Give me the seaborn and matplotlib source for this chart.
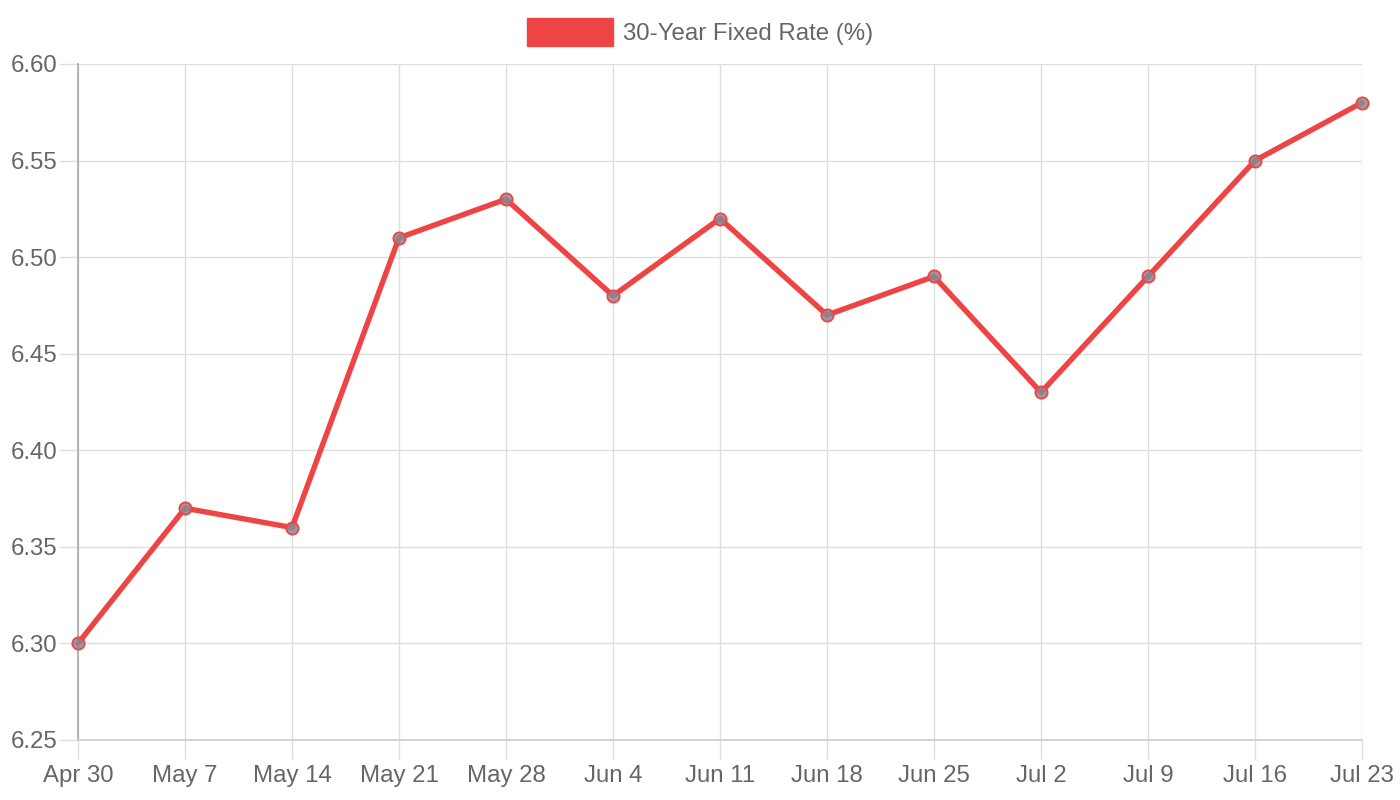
#!/usr/bin/env python3
"""30-year fixed mortgage rate, weekly."""

import matplotlib

matplotlib.use("Agg")
import matplotlib.pyplot as plt
from matplotlib.patches import Patch
import pandas as pd
import seaborn as sns

WEEKS = ["Apr 30", "May 7", "May 14", "May 21", "May 28", "Jun 4", "Jun 11",
         "Jun 18", "Jun 25", "Jul 2", "Jul 9", "Jul 16", "Jul 23"]
RATES = [6.30, 6.37, 6.36, 6.51, 6.53, 6.48, 6.52, 6.47, 6.49, 6.43, 6.49, 6.55, 6.58]
Y_TICKS = [6.25, 6.30, 6.35, 6.40, 6.45, 6.50, 6.55, 6.60]
LABEL = "30-Year Fixed Rate (%)"

RED = "#ef4444"
TEXT = "#666666"
GRID = "#dedede"

sns.set_theme(style="white")
plt.rcParams["font.family"] = ["Liberation Sans", "DejaVu Sans"]

frame = pd.DataFrame({"pos": range(len(WEEKS)), "rate": RATES})

fig = plt.figure(figsize=(14, 8), dpi=100)
ax = fig.add_axes([78 / 1400, 1 - 740 / 800, (1362 - 78) / 1400, (740 - 64) / 800])

sns.lineplot(data=frame, x="pos", y="rate", color=RED, linewidth=3.9,
             marker="o", markersize=8.8, markerfacecolor=(0.55, 0.53, 0.58, 0.85),
             markeredgecolor=RED, markeredgewidth=1.3, ax=ax, zorder=3,
             clip_on=False)

ax.set_xlim(0, len(WEEKS) - 1)
ax.set_ylim(Y_TICKS[0], Y_TICKS[-1])
ax.set_xticks(range(len(WEEKS)))
ax.set_xticklabels(WEEKS)
ax.set_yticks(Y_TICKS)
ax.set_yticklabels([f"{v:.2f}" for v in Y_TICKS])
ax.set(xlabel="", ylabel="")

ax.grid(True, color=GRID, linewidth=1.0)
ax.tick_params(axis="both", bottom=True, left=True, colors=GRID, labelcolor=TEXT,
               labelsize=17.3, length=14, width=1.0)
ax.tick_params(axis="x", pad=4)
ax.tick_params(axis="y", pad=1)
for side in ("top", "right"):
    ax.spines[side].set_visible(False)
ax.spines["left"].set_color("#a8a8a8")
ax.spines["bottom"].set_color("#cccccc")
for side in ("left", "bottom"):
    ax.spines[side].set_linewidth(1.2)

fig.legend(handles=[Patch(facecolor=RED, edgecolor=RED)], labels=[LABEL],
           loc="center", bbox_to_anchor=(0.5, 1 - 32 / 800), frameon=False,
           fontsize=17.3, labelcolor=TEXT, handlelength=3.6, handleheight=1.45,
           handletextpad=0.4)

fig.savefig("out.png", dpi=100)
plt.close(fig)
